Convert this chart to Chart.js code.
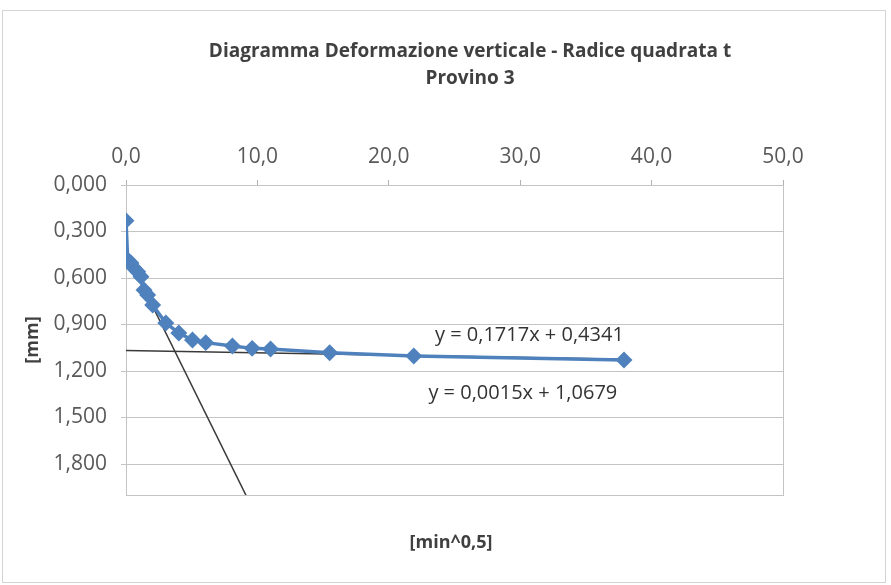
<!DOCTYPE html>
<html>
<head>
<meta charset="utf-8">
<script src="https://cdn.jsdelivr.net/npm/chart.js@4.4.0/dist/chart.umd.min.js"></script>
<style>
  html, body { margin: 0; padding: 0; background: #fff; }
</style>
</head>
<body>
<canvas id="chart" width="891" height="585"></canvas>
<script>
// values
const sqrtTime = [0, 0.13, 0.38, 0.6, 0.89, 1.14, 1.37, 1.65, 2.03, 3.03, 4.02, 5.06, 6.07, 8.1, 9.6, 11.0, 15.5, 21.9, 37.9]
const deformation = [0.23, 0.484, 0.503, 0.535, 0.559, 0.592, 0.677, 0.71, 0.774, 0.89, 0.955, 1.0, 1.017, 1.039, 1.054, 1.058, 1.082, 1.103, 1.129]

// trendlines as shown on the chart
const trendSlopes = [0.1717, 0.0015]
const trendIntercepts = [0.4341, 1.0679]
const trendLabels = ['y = 0,1717x + 0,4341', 'y = 0,0015x + 1,0679']
const trendLabelAt = [[30.7, 0.97], [30.2, 1.345]] // label centres, in data units

const xTicks = [0, 10, 20, 30, 40, 50]
const yTicks = [0, 0.3, 0.6, 0.9, 1.2, 1.5, 1.8]

const titleLines = ['Diagramma Deformazione verticale - Radice quadrata t', 'Provino 3']
const xTitle = '[min^0,5]'
const yTitle = '[mm]'

const FONT = '"Open Sans", "Liberation Sans", sans-serif'

const xMin = Math.min(...sqrtTime)
const xMax = Math.max(...sqrtTime)
const trendDatasets = trendSlopes.map((a, i) => ({
  label: 'trend ' + (i + 1),
  data: [xMin, xMax].map(x => ({ x: x, y: a * x + trendIntercepts[i] })),
  showLine: true,
  borderColor: '#3a3a3a',
  borderWidth: 1.5,
  pointRadius: 0,
  order: 2
}))

const decorations = {
  id: 'decorations',
  beforeDraw(chart) {
    const ctx = chart.ctx
    ctx.save()
    ctx.fillStyle = '#fff'
    ctx.fillRect(0, 0, chart.width, chart.height)
    ctx.strokeStyle = '#d4d4d4'
    ctx.lineWidth = 1
    ctx.strokeRect(2.5, 10.5, 883, 572)
    ctx.restore()
  },
  beforeDatasetsDraw(chart) {
    const { left, top, right, bottom } = chart.chartArea
    const ctx = chart.ctx
    ctx.save()
    ctx.strokeStyle = '#c4c4c4'
    ctx.lineWidth = 1
    ctx.strokeRect(Math.round(left) + 0.5, Math.round(top) + 0.5, Math.round(right - left), Math.round(bottom - top))
    ctx.restore()
  },
  afterDraw(chart) {
    const ctx = chart.ctx
    const xs = chart.scales.x, ys = chart.scales.y
    ctx.save()
    ctx.textAlign = 'center'
    ctx.textBaseline = 'middle'
    ctx.fillStyle = '#404040'
    ctx.font = 'bold 19px ' + FONT
    ctx.fillText(titleLines[0], 470, 52)
    ctx.fillText(titleLines[1], 470, 79)
    ctx.font = 'bold 18px ' + FONT
    ctx.fillText(xTitle, 451, 543)
    ctx.font = '20px ' + FONT
    ctx.fillStyle = '#333'
    trendLabels.forEach((t, i) => {
      ctx.fillText(t, xs.getPixelForValue(trendLabelAt[i][0]), ys.getPixelForValue(trendLabelAt[i][1]))
    })
    ctx.restore()
  }
}

new Chart(document.getElementById('chart'), {
  type: 'scatter',
  data: {
    datasets: [
      {
        label: 'Provino 3',
        data: sqrtTime.map((x, i) => ({ x: x, y: deformation[i] })),
        showLine: true,
        borderColor: '#4f81bd',
        borderWidth: 3.5,
        pointStyle: 'rectRot',
        pointRadius: 6,
        pointBackgroundColor: '#4f81bd',
        pointBorderColor: '#4f81bd',
        order: 1
      },
      ...trendDatasets
    ]
  },
  options: {
    responsive: false,
    animation: false,
    layout: { padding: { top: 100, right: 108, bottom: 90, left: 0 } },
    plugins: {
      legend: { display: false },
      title: { display: false },
      tooltip: { enabled: false }
    },
    scales: {
      x: {
        type: 'linear',
        position: 'top',
        min: 0,
        max: 50,
        afterBuildTicks: axis => { axis.ticks = xTicks.map(v => ({ value: v })) },
        afterFit: scale => { scale.height = 85 },
        grid: { drawOnChartArea: false, tickLength: 5, color: '#b0b0b0' },
        border: { color: '#b0b0b0' },
        ticks: {
          padding: 10,
          color: '#595959',
          font: { family: FONT, size: 21 },
          callback: v => v.toFixed(1).replace('.', ',')
        }
      },
      y: {
        type: 'linear',
        reverse: true,
        min: 0,
        max: 2.0,
        afterBuildTicks: axis => { axis.ticks = yTicks.map(v => ({ value: v })) },
        afterFit: scale => { scale.width = 126 },
        grid: { tickLength: 5, color: '#c4c4c4' },
        border: { color: '#b0b0b0' },
        ticks: {
          padding: 14,
          color: '#595959',
          font: { family: FONT, size: 21 },
          callback: v => v.toFixed(3).replace('.', ',')
        },
        title: {
          display: true,
          text: yTitle,
          color: '#404040',
          font: { family: FONT, size: 18, weight: 'bold' },
          padding: { top: 22, bottom: 0 }
        }
      }
    }
  },
  plugins: [decorations]
})
</script>
</body>
</html>
